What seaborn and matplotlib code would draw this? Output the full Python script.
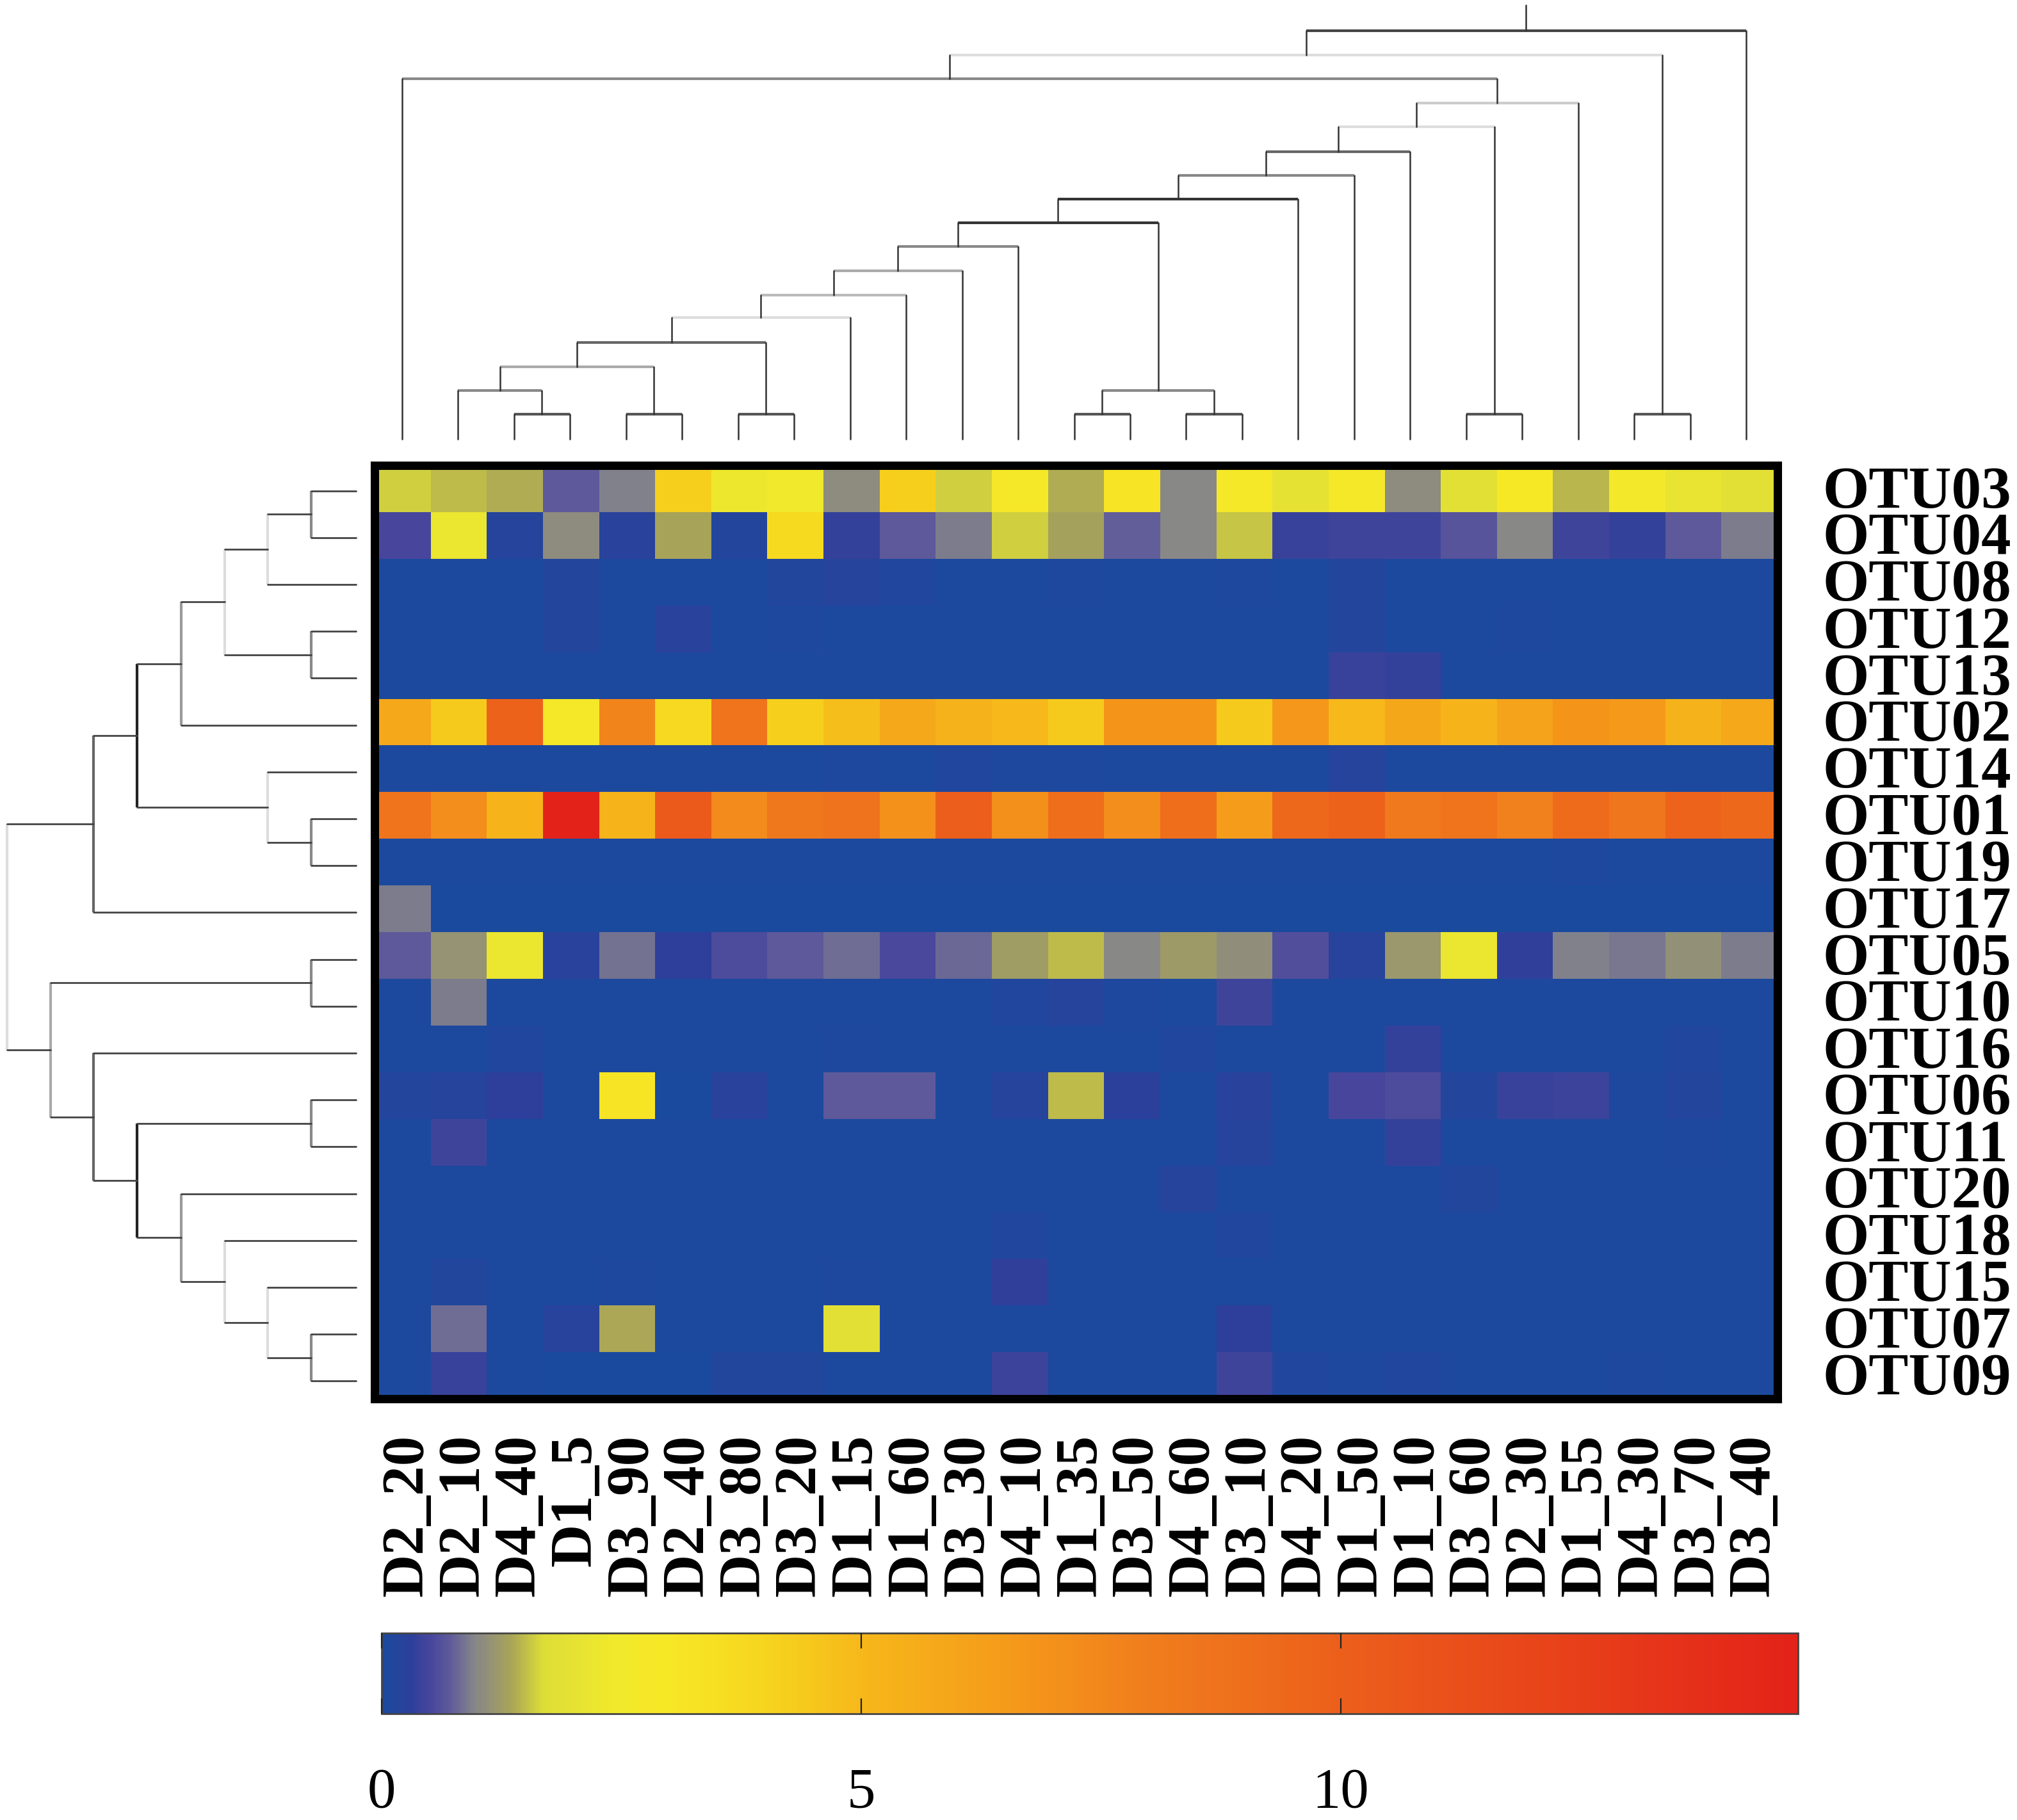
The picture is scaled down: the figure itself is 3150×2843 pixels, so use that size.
import numpy as np
import pandas as pd
import matplotlib
matplotlib.use('Agg')
import matplotlib.pyplot as plt
import seaborn as sns
from matplotlib.colors import LinearSegmentedColormap
from matplotlib.transforms import ScaledTranslation

W, H = 3150, 2843

samples = ['D2_20', 'D2_10', 'D4_40', 'D1_5', 'D3_90', 'D2_40', 'D3_80', 'D3_20', 'D1_15',
           'D1_60', 'D3_30', 'D4_10', 'D1_35', 'D3_50', 'D4_60', 'D3_10', 'D4_20', 'D1_50',
           'D1_10', 'D3_60', 'D2_30', 'D1_55', 'D4_30', 'D3_70', 'D3_40']

otu03 = [1.6, 1.5, 1.4, 0.7, 0.95, 4.2, 2.3, 2.4, 1.05, 4.2, 1.6, 2.8, 1.4, 3.2, 1.0, 2.8, 2.0, 2.7, 1.05, 1.9, 3.0, 1.45, 2.6, 2.1, 1.9]
otu04 = [0.5, 2.2, 0.2, 1.05, 0.25, 1.35, 0.15, 3.7, 0.35, 0.7, 0.9, 1.6, 1.3, 0.75, 1.0, 1.55, 0.4, 0.45, 0.45, 0.65, 1.0, 0.45, 0.35, 0.72, 0.92]
otu08 = [0.05, 0.05, 0.05, 0.15, 0.05, 0.05, 0.05, 0.12, 0.18, 0.1, 0.05, 0.05, 0.08, 0.05, 0.05, 0.08, 0.05, 0.15, 0.05, 0.05, 0.05, 0.05, 0.05, 0.05, 0.05]
otu12 = [0.04, 0.04, 0.04, 0.15, 0.04, 0.25, 0.04, 0.06, 0.04, 0.04, 0.04, 0.04, 0.04, 0.04, 0.04, 0.04, 0.04, 0.15, 0.03, 0.04, 0.08, 0.04, 0.04, 0.03, 0.04]
otu13 = [0.03, 0.03, 0.03, 0.03, 0.03, 0.03, 0.03, 0.03, 0.03, 0.03, 0.03, 0.03, 0.03, 0.03, 0.03, 0.03, 0.03, 0.4, 0.35, 0.03, 0.03, 0.03, 0.03, 0.03, 0.03]
otu02 = [5.8, 4.4, 9.8, 2.8, 7.6, 3.8, 8.6, 4.2, 4.8, 5.8, 5.3, 5.0, 4.4, 6.8, 6.8, 4.4, 6.7, 5.0, 5.9, 5.2, 6.1, 6.8, 6.6, 5.3, 5.8]
otu14 = [0.05, 0.05, 0.05, 0.03, 0.05, 0.03, 0.03, 0.03, 0.08, 0.05, 0.1, 0.08, 0.08, 0.03, 0.03, 0.03, 0.03, 0.18, 0.05, 0.05, 0.05, 0.05, 0.05, 0.05, 0.05]
otu01 = [8.6, 7.2, 5.2, 14.7, 5.2, 10.5, 7.3, 8.4, 8.7, 7.0, 10.1, 7.1, 9.0, 7.2, 9.0, 6.4, 9.4, 9.8, 8.3, 8.6, 7.8, 9.2, 8.5, 9.7, 9.4]
otu19 = [0.03, 0.03, 0.03, 0.03, 0.03, 0.03, 0.03, 0.03, 0.03, 0.03, 0.03, 0.03, 0.03, 0.03, 0.03, 0.03, 0.03, 0.03, 0.03, 0.03, 0.03, 0.08, 0.03, 0.03, 0.03]
otu17 = [0.9, 0.02, 0.02, 0.02, 0.02, 0.02, 0.02, 0.02, 0.02, 0.02, 0.02, 0.02, 0.02, 0.02, 0.02, 0.02, 0.02, 0.02, 0.02, 0.02, 0.02, 0.02, 0.02, 0.02, 0.02]
otu05 = [0.7, 1.15, 2.2, 0.25, 0.85, 0.3, 0.55, 0.7, 0.82, 0.52, 0.78, 1.25, 1.5, 1.0, 1.22, 1.08, 0.58, 0.22, 1.2, 2.2, 0.32, 0.95, 0.87, 1.12, 0.9]
otu10 = [0.03, 0.92, 0.03, 0.03, 0.03, 0.03, 0.03, 0.03, 0.03, 0.03, 0.03, 0.1, 0.2, 0.06, 0.03, 0.45, 0.03, 0.03, 0.03, 0.03, 0.03, 0.03, 0.03, 0.03, 0.03]
otu16 = [0.03, 0.05, 0.1, 0.03, 0.03, 0.03, 0.03, 0.03, 0.08, 0.03, 0.03, 0.05, 0.03, 0.05, 0.1, 0.03, 0.03, 0.03, 0.35, 0.03, 0.03, 0.03, 0.03, 0.1, 0.03]
otu06 = [0.15, 0.2, 0.3, 0.05, 3.2, 0.02, 0.25, 0.05, 0.7, 0.7, 0.05, 0.18, 1.5, 0.28, 0.05, 0.25, 0.05, 0.5, 0.55, 0.15, 0.4, 0.42, 0.08, 0.15, 0.03]
otu11 = [0.03, 0.45, 0.03, 0.03, 0.03, 0.03, 0.03, 0.03, 0.03, 0.03, 0.03, 0.05, 0.03, 0.03, 0.03, 0.2, 0.05, 0.03, 0.35, 0.03, 0.03, 0.03, 0.03, 0.08, 0.03]
otu20 = [0.03, 0.05, 0.03, 0.03, 0.03, 0.03, 0.03, 0.03, 0.03, 0.03, 0.03, 0.03, 0.03, 0.03, 0.2, 0.03, 0.03, 0.03, 0.03, 0.12, 0.03, 0.03, 0.03, 0.03, 0.03]
otu18 = [0.03, 0.05, 0.03, 0.03, 0.03, 0.03, 0.03, 0.03, 0.03, 0.03, 0.03, 0.1, 0.05, 0.03, 0.03, 0.1, 0.03, 0.03, 0.03, 0.03, 0.03, 0.03, 0.03, 0.03, 0.03]
otu15 = [0.03, 0.12, 0.03, 0.03, 0.08, 0.03, 0.03, 0.03, 0.08, 0.03, 0.03, 0.32, 0.03, 0.03, 0.03, 0.05, 0.03, 0.03, 0.03, 0.03, 0.03, 0.03, 0.03, 0.03, 0.03]
otu07 = [0.03, 0.82, 0.03, 0.22, 1.38, 0.03, 0.03, 0.03, 1.85, 0.03, 0.03, 0.05, 0.03, 0.03, 0.03, 0.3, 0.03, 0.03, 0.03, 0.03, 0.03, 0.03, 0.03, 0.03, 0.03]
otu09 = [0.03, 0.38, 0.03, 0.02, 0.02, 0.02, 0.12, 0.12, 0.03, 0.03, 0.03, 0.42, 0.05, 0.03, 0.03, 0.45, 0.1, 0.08, 0.1, 0.03, 0.05, 0.03, 0.06, 0.03, 0.03]

otu_names = ['OTU03', 'OTU04', 'OTU08', 'OTU12', 'OTU13', 'OTU02', 'OTU14', 'OTU01', 'OTU19', 'OTU17',
             'OTU05', 'OTU10', 'OTU16', 'OTU06', 'OTU11', 'OTU20', 'OTU18', 'OTU15', 'OTU07', 'OTU09']
otu_rows = [otu03, otu04, otu08, otu12, otu13, otu02, otu14, otu01, otu19, otu17,
            otu05, otu10, otu16, otu06, otu11, otu20, otu18, otu15, otu07, otu09]

# cluster trees, one (left child, right child) per merge, new nodes numbered after the leaves
top_merges = [(2, 3), (1, 25), (4, 5), (26, 27), (6, 7), (28, 29), (30, 8), (31, 9), (32, 10), (33, 11),
              (12, 13), (14, 15), (35, 36), (34, 37), (38, 16), (39, 17), (40, 18), (19, 20), (41, 42),
              (43, 21), (0, 44), (22, 23), (45, 46), (47, 24)]
top_heights = [39, 76, 39, 113, 39, 151, 190, 225, 263, 301, 39, 39, 76, 338, 375, 412, 449, 39, 488, 525, 563, 39, 600, 638]
top_greys = ['#555', '#888', '#555', '#aaa', '#555', '#666', '#ddd', '#bbb', '#aaa', '#888', '#555', '#555', '#888',
             '#333', '#333', '#888', '#666', '#555', '#ddd', '#ccc', '#888', '#555', '#ddd', '#444']

left_merges = [(0, 1), (20, 2), (3, 4), (21, 22), (23, 5), (7, 8), (6, 25), (24, 26), (27, 9), (10, 11), (13, 14),
               (18, 19), (17, 31), (16, 32), (15, 33), (30, 34), (12, 35), (29, 36), (28, 37)]
left_heights = [70, 138, 70, 205, 273, 70, 138, 342, 410, 70, 70, 70, 138, 205, 273, 342, 410, 477, 545]
left_greys = ['#888', '#ddd', '#888', '#ddd', '#999', '#888', '#ddd', '#222', '#666', '#888', '#888',
              '#888', '#ddd', '#ddd', '#999', '#222', '#666', '#aaa', '#ddd']

cmap_values = [0, 0.3, 0.5, 0.7, 0.95, 1.34, 1.67, 2.4, 2.95, 4, 5, 6.55, 7.9, 10, 14.77]
cmap_colors = ['#1A4A9E', '#2E3F9A', '#48469C', '#5E5A9A', '#85858A', '#A8A458', '#DDDD38', '#F0E92C', '#F7E826',
               '#F6D51E', '#F6B81A', '#F59A1A', '#F07F1C', '#EC5F1B', '#E32219']
vmax = 14.77


def px_axes(fig, x0, y0, x1, y1):
    return fig.add_axes([x0 / W, 1 - y1 / H, (x1 - x0) / W, (y1 - y0) / H])


def draw_tree(ax, merges, heights, greys, n_leaves, horizontal=False):
    pos = {i: i + 0.5 for i in range(n_leaves)}
    hgt = {i: 0 for i in range(n_leaves)}
    for k, (a, b) in enumerate(merges):
        node = n_leaves + k
        h = heights[k]
        pos[node] = (pos[a] + pos[b]) / 2
        hgt[node] = h
        if horizontal:
            ax.plot([h, h], [pos[a], pos[b]], color=greys[k], lw=3, solid_capstyle='butt', clip_on=False)
            ax.plot([hgt[a], h], [pos[a], pos[a]], color='#444', lw=2, clip_on=False)
            ax.plot([hgt[b], h], [pos[b], pos[b]], color='#444', lw=2, clip_on=False)
        else:
            ax.plot([pos[a], pos[b]], [h, h], color=greys[k], lw=3, solid_capstyle='butt', clip_on=False)
            ax.plot([pos[a], pos[a]], [hgt[a], h], color='#333', lw=1.8, clip_on=False)
            ax.plot([pos[b], pos[b]], [hgt[b], h], color='#333', lw=1.8, clip_on=False)
    return pos


sns.set_theme(style='white')
plt.rcParams['font.family'] = ['Liberation Serif', 'DejaVu Serif']
plt.rcParams['text.color'] = 'black'
plt.rcParams['xtick.color'] = 'black'
plt.rcParams['ytick.color'] = 'black'

df = pd.DataFrame(otu_rows, index=otu_names, columns=samples)
cmap = LinearSegmentedColormap.from_list('otu', [(v / vmax, c) for v, c in zip(cmap_values, cmap_colors)], N=512)

fig = plt.figure(figsize=(W / 100, H / 100), dpi=100, facecolor='white')
ax_heat = px_axes(fig, 585, 727, 2776, 2185)
ax_cbar = px_axes(fig, 596, 2551, 2808, 2677)
ax_top = px_axes(fig, 584, 8, 2771, 686)
ax_left = px_axes(fig, 10, 730, 556, 2194)

sns.heatmap(df, ax=ax_heat, cmap=cmap, vmin=0, vmax=vmax, cbar_ax=ax_cbar,
            cbar_kws={'orientation': 'horizontal', 'ticks': [0, 5, 10]})

# heatmap frame and labels
for s in ax_heat.spines.values():
    s.set_visible(True)
    s.set_color('black')
    s.set_linewidth(9.4)
ax_heat.set_xlabel('')
ax_heat.set_ylabel('')
ax_heat.yaxis.tick_right()
ax_heat.tick_params(axis='both', length=0)
ax_heat.tick_params(axis='y', pad=51)
ax_heat.tick_params(axis='x', pad=40)
ax_heat.set_yticklabels(otu_names, rotation=0, fontsize=67, fontweight='bold', va='center', color='black')
ax_heat.set_xticklabels(samples, rotation=90, fontsize=67, fontweight='bold', va='top', ha='center', color='black')
shift_x = ScaledTranslation(8 / 100, 0, fig.dpi_scale_trans)
for lab in ax_heat.get_xticklabels():
    lab.set_transform(lab.get_transform() + shift_x)
shift_y = ScaledTranslation(0, -7 / 100, fig.dpi_scale_trans)
for lab in ax_heat.get_yticklabels():
    lab.set_transform(lab.get_transform() + shift_y)

# colorbar
cbar = ax_heat.collections[0].colorbar
cbar.ax.set_axisbelow(False)
cbar.ax.tick_params(axis='x', direction='in', length=17, width=1.6, color='#222', top=True, bottom=True,
                    labelsize=64, labelcolor='black', pad=60)
cbar.outline.set_edgecolor('#444')
cbar.outline.set_linewidth(2)

# dendrograms
top_pos = draw_tree(ax_top, top_merges, top_heights, top_greys, len(samples))
root = len(samples) + len(top_merges) - 1
ax_top.plot([top_pos[root], top_pos[root]], [top_heights[-1], 678], color='#333', lw=1.8, clip_on=False)
ax_top.set_xlim(0, len(samples))
ax_top.set_ylim(0, 678)
ax_top.axis('off')

draw_tree(ax_left, left_merges, left_heights, left_greys, len(otu_names), horizontal=True)
ax_left.set_xlim(546, 0)
ax_left.set_ylim(len(otu_names), 0)
ax_left.axis('off')

fig.savefig('out.png', dpi=100, facecolor='white')
